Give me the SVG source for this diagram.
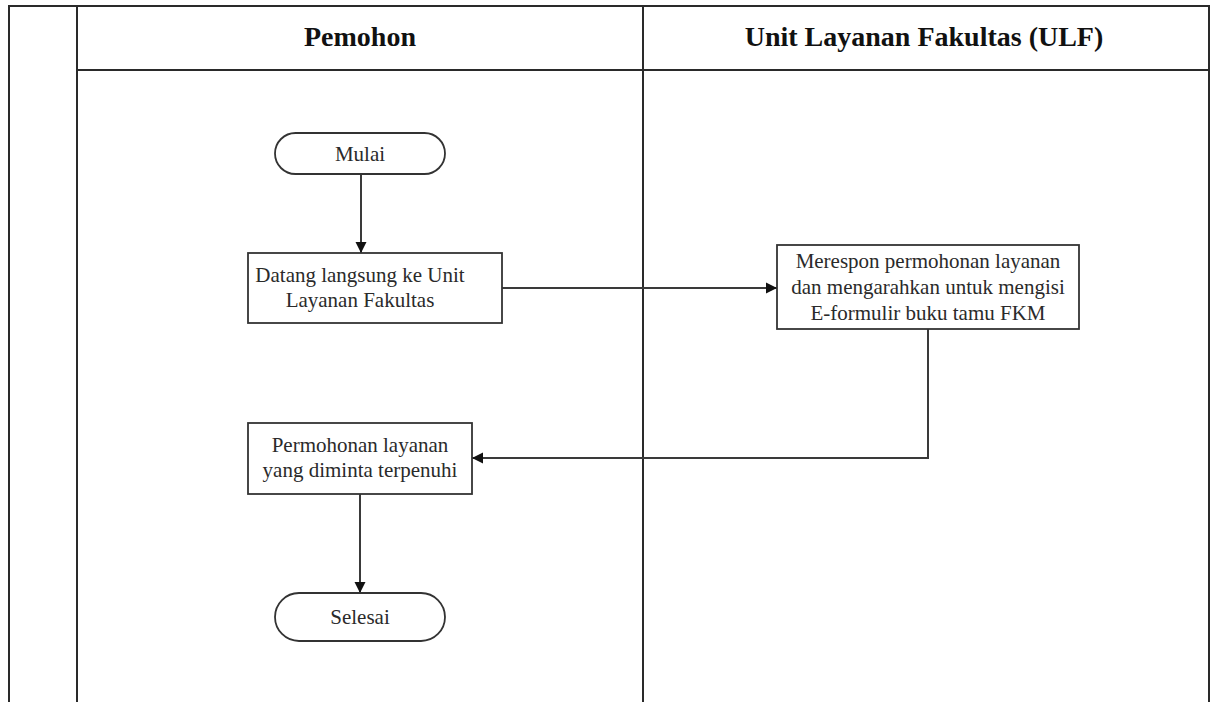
<svg xmlns="http://www.w3.org/2000/svg" width="1211" height="702" viewBox="0 0 1211 702">
<style>
.lane{stroke:#2a2a2a;stroke-width:2;fill:none}
.shape{fill:#fff;stroke:#333;stroke-width:1.8}
.conn{stroke:#3a3a3a;stroke-width:2;fill:none}
.title{font-family:"Liberation Serif","Times New Roman",serif;font-weight:bold;font-size:28px;fill:#111;text-anchor:middle}
.lbl{font-family:"Liberation Serif","Times New Roman",serif;font-size:21px;fill:#2a2a2a;text-anchor:middle}
</style>
<defs>
<marker id="arr" markerWidth="12" markerHeight="12" refX="11" refY="6" orient="auto" markerUnits="userSpaceOnUse">
<path d="M0,0.5 L11,6 L0,11.5 Z" fill="#111"/>
</marker>
</defs>
<rect width="1211" height="702" fill="#fff"/>
<g id="lanes">
<path class="lane" d="M9,702 V6 H1209 V702 M77,6 V702 M643,6 V702 M77,70 H1209"/>
<text class="title" x="360" y="46">Pemohon</text>
<text class="title" x="924" y="46">Unit Layanan Fakultas (ULF)</text>
</g>
<g id="connectors">
<path class="conn" d="M361,174 V253" marker-end="url(#arr)"/>
<path class="conn" d="M502,288 H777" marker-end="url(#arr)"/>
<path class="conn" d="M928,329 V458 H472" marker-end="url(#arr)"/>
<path class="conn" d="M360,494 V593" marker-end="url(#arr)"/>
</g>
<g id="mulai">
<rect class="shape" x="275" y="133" width="170" height="41" rx="20.5"/>
<text class="lbl" x="360" y="161">Mulai</text>
</g>
<g id="datang">
<rect class="shape" x="248" y="253" width="254" height="70"/>
<text class="lbl" x="360" y="282">Datang langsung ke Unit</text>
<text class="lbl" x="360" y="307">Layanan Fakultas</text>
</g>
<g id="merespon">
<rect class="shape" x="777" y="245" width="302" height="84"/>
<text class="lbl" x="928" y="268">Merespon permohonan layanan</text>
<text class="lbl" x="928" y="294">dan mengarahkan untuk mengisi</text>
<text class="lbl" x="928" y="320">E-formulir buku tamu FKM</text>
</g>
<g id="terpenuhi">
<rect class="shape" x="248" y="423" width="224" height="71"/>
<text class="lbl" x="360" y="452">Permohonan layanan</text>
<text class="lbl" x="360" y="477">yang diminta terpenuhi</text>
</g>
<g id="selesai">
<rect class="shape" x="275" y="593" width="170" height="48" rx="24"/>
<text class="lbl" x="360" y="624">Selesai</text>
</g>
</svg>
